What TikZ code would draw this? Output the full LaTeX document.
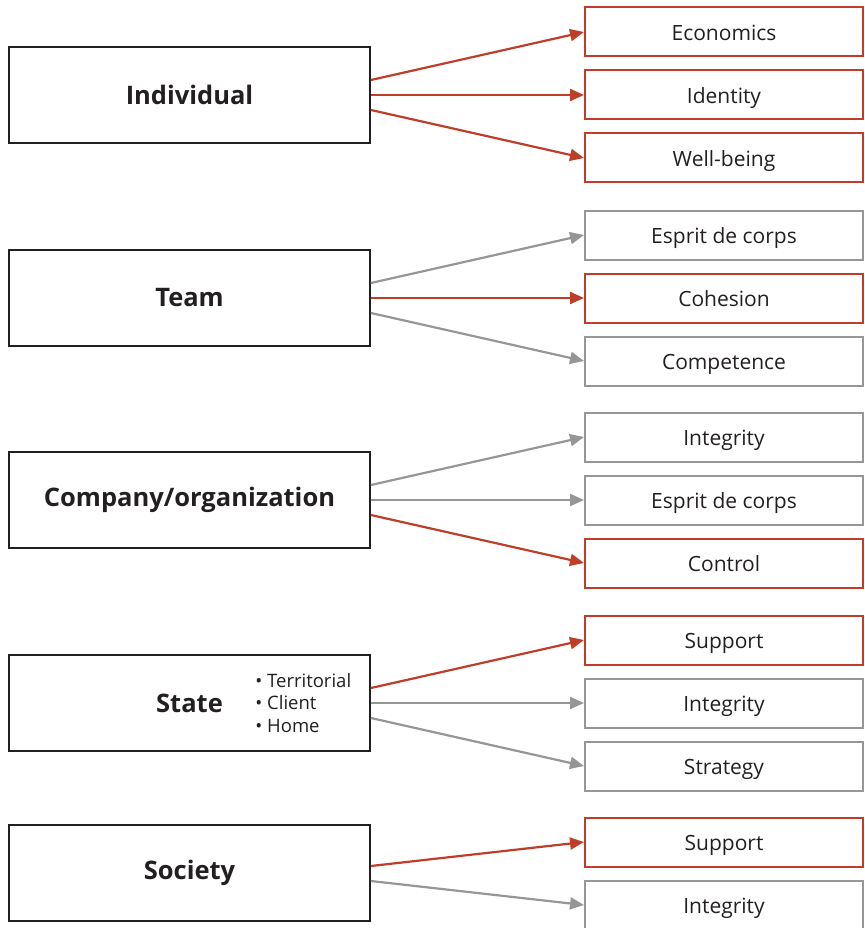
\documentclass[tikz,border=0pt]{standalone}
\usepackage{fontspec}
\setmainfont{Open Sans}
\usepackage{tikz}
\usetikzlibrary{arrows.meta}
\definecolor{box_dark}{RGB}{35,31,32}
\definecolor{edge_red}{RGB}{190,62,42}
\definecolor{edge_gray}{RGB}{150,150,152}

\begin{document}
\begin{tikzpicture}[x=1pt,y=-1pt,line width=2.2pt,-{Triangle[length=14pt,width=12pt]}]
    \tikzstyle{level}=[draw=box_dark, rectangle, minimum width=361pt, minimum height=96pt, line width=1.8pt, font=\fontsize{25.5}{30}\selectfont\bfseries, text=box_dark]
    \tikzstyle{factor}=[rectangle, minimum width=278pt, minimum height=49pt, line width=2pt, font=\fontsize{21}{24}\selectfont, text=box_dark, text height=17pt, text depth=0pt]
    \tikzstyle{factorred}=[style=factor, draw=edge_red]
    \tikzstyle{factorgray}=[style=factor, draw=edge_gray]
    \tikzstyle{red}=[draw=edge_red, edge_red]
    \tikzstyle{gray}=[draw=edge_gray, edge_gray]

    \useasboundingbox (0,0) rectangle (864,928);

    % levels
    \node[level] (ind) at (189.5,95)  {Individual};
    \node[level] (team) at (189.5,298) {Team};
    \node[level] (comp) at (189.5,500) {Company/organization};
    \node[level] (state) at (189.5,703) {State};
    \node[level] (soc) at (189.5,873) {Society};
    \node[align=left, anchor=west, font=\fontsize{18.5}{22.5}\selectfont, text=box_dark] (statelist) at (251,703)
      {\textbullet\ Territorial\\ \textbullet\ Client\\ \textbullet\ Home};

    % factors
    \node[factorred]  (econ)  at (724,32)  {Economics};
    \node[factorred]  (iden)  at (724,95)  {Identity};
    \node[factorred]  (well)  at (724,158) {Well-being};
    \node[factorgray] (esp1)  at (724,235) {Esprit de corps};
    \node[factorred]  (cohe)  at (724,298) {Cohesion};
    \node[factorgray] (compe) at (724,361) {Competence};
    \node[factorgray] (integ1) at (724,437) {Integrity};
    \node[factorgray] (esp2)  at (724,500) {Esprit de corps};
    \node[factorred]  (contr) at (724,563) {Control};
    \node[factorred]  (supp1) at (724,640) {Support};
    \node[factorgray] (integ2) at (724,703) {Integrity};
    \node[factorgray] (strat) at (724,766) {Strategy};
    \node[factorred]  (supp2) at (724,842) {Support};
    \node[factorgray] (integ3) at (724,905) {Integrity};

    \path
     ([yshift=15]ind.east) edge[red] (econ.west)
     (ind.east) edge[red] (iden.west)
     ([yshift=-15]ind.east) edge[red] (well.west)
     ([yshift=15]team.east) edge[gray] (esp1.west)
     (team.east) edge[red] (cohe.west)
     ([yshift=-15]team.east) edge[gray] (compe.west)
     ([yshift=15]comp.east) edge[gray] (integ1.west)
     (comp.east) edge[gray] (esp2.west)
     ([yshift=-15]comp.east) edge[red] (contr.west)
     ([yshift=15]state.east) edge[red] (supp1.west)
     (state.east) edge[gray] (integ2.west)
     ([yshift=-15]state.east) edge[gray] (strat.west)
     ([yshift=7]soc.east) edge[red] (supp2.west)
     ([yshift=-8]soc.east) edge[gray] (integ3.west);
\end{tikzpicture}
\end{document}
